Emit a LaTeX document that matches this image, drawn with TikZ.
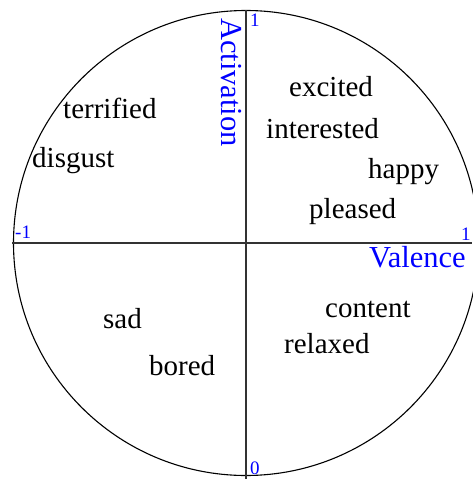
\documentclass[tikz,border=0pt]{standalone}
\usepackage{fontspec}
\setmainfont{Liberation Serif}
\begin{document}
\begin{tikzpicture}[x=1pt,y=-1pt,
  word/.style={anchor=base west, inner sep=0pt, font=\fontsize{29}{31}\selectfont, text=black},
  axislabel/.style={anchor=base west, inner sep=0pt, font=\fontsize{30.5}{32}\selectfont, text=blue},
  num/.style={anchor=base west, inner sep=0pt, font=\fontsize{19}{21}\selectfont, text=blue},
  axis/.style={draw=black!80, line width=1.1pt}]
\useasboundingbox (0,0) rectangle (472,479);
\coordinate (c) at (246,243);
\draw[line width=1.1pt] (c) circle[radius=232.5];
\coordinate (top) at (246,10);
\coordinate (bot) at (246,479);
\coordinate (lft) at (12,243);
\coordinate (rgt) at (472,243);
\draw[axis] (top) -- (bot);
\draw[axis] (lft) -- (rgt);
% axis labels
\node[axislabel, rotate=-90] (act) at (221,18) {Activation};
\node[axislabel] (val) at (369,267) {Valence};
\node[num] (n1t) at (250,27) {1};
\node[num] (n0) at (250,474) {0};
\node[num] (nm1) at (15,238) {-1};
\node[num] (n1r) at (461,240) {1};
% emotion words
\node[word] (excited) at (289,96) {excited};
\node[word] (interested) at (266,138) {interested};
\node[word] (happy) at (368,178) {happy};
\node[word] (pleased) at (309,218) {pleased};
\node[word] (terrified) at (63,118) {terrified};
\node[word] (disgust) at (32,167) {disgust};
\node[word] (sad) at (103,328) {sad};
\node[word] (bored) at (149,375) {bored};
\node[word] (content) at (325,317) {content};
\node[word] (relaxed) at (284,353) {relaxed};
\end{tikzpicture}
\end{document}
